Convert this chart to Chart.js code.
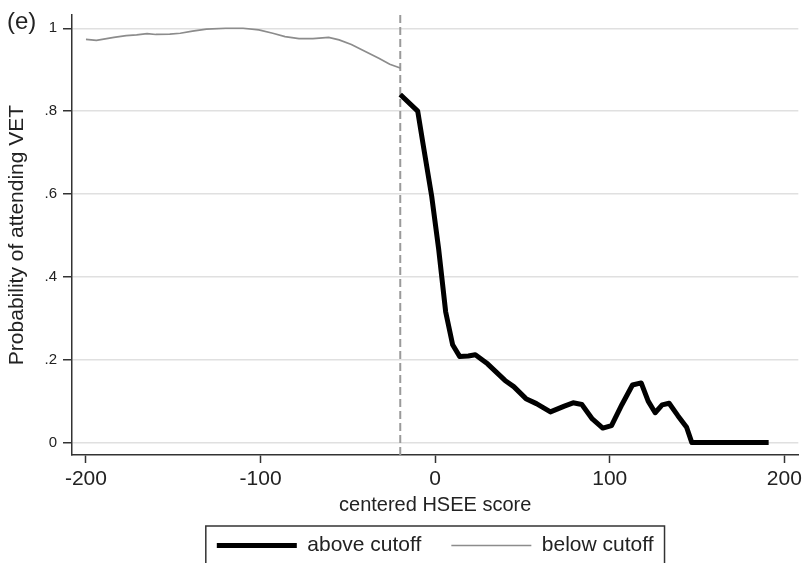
<!DOCTYPE html>
<html>
<head>
<meta charset="utf-8">
<script src="https://cdn.jsdelivr.net/npm/chart.js@4.4.1/dist/chart.umd.min.js"></script>
<style>
  html, body { margin: 0; padding: 0; background: #ffffff; }
  #c { display: block; }
</style>
</head>
<body>
<canvas id="c" width="806" height="563"></canvas>
<script>
// ---- data ----
const panelLabel = '(e)';
const xTitle = 'centered HSEE score';
const yTitle = 'Probability of attending VET';

const belowLabel = 'below cutoff';
const belowX = [-200, -194, -184, -177, -171, -165, -160, -152, -146, -139, -131, -120, -110, -101, -93, -86, -78, -70, -61, -55, -48, -40, -32, -26, -20];
const belowY = [0.973, 0.971, 0.978, 0.982, 0.984, 0.987, 0.985, 0.986, 0.988, 0.993, 0.998, 1.0, 1.0, 0.996, 0.988, 0.980, 0.975, 0.975, 0.978, 0.972, 0.961, 0.944, 0.927, 0.913, 0.904];

const aboveLabel = 'above cutoff';
const aboveX = [-20, -10, -7, -2, 2, 6, 10, 14, 19, 23, 30, 40, 45, 52, 58, 66, 74, 79, 84, 90, 96, 101, 107, 113, 118, 122, 126, 130, 134, 139, 144, 147, 191];
const aboveY = [0.840, 0.800, 0.722, 0.595, 0.467, 0.316, 0.236, 0.208, 0.209, 0.212, 0.190, 0.150, 0.135, 0.106, 0.094, 0.074, 0.088, 0.096, 0.092, 0.057, 0.035, 0.041, 0.092, 0.139, 0.144, 0.100, 0.072, 0.091, 0.095, 0.065, 0.037, 0.0, 0.0];

const cutoff = -20;

const xTickValues = [-200, -100, 0, 100, 200];
const xTickLabels = ['-200', '-100', '0', '100', '200'];
const yTickValues = [0, 0.2, 0.4, 0.6, 0.8, 1];
const yTickLabels = ['0', '.2', '.4', '.6', '.8', '1'];

const xMin = -208, xMax = 208;
const yMin = -0.03, yMax = 1.032;

// ---- chart ----
const FONT = "'Liberation Sans', Arial, Helvetica, sans-serif";
const AXIS = '#333333';
const TEXT = '#222222';

const toPoints = (xs, ys) => xs.map((x, i) => ({ x: x, y: ys[i] }));

const panelLabelPlugin = {
  id: 'panelLabel',
  afterDraw(chart) {
    const ctx = chart.ctx;
    ctx.save();
    ctx.font = '24px ' + FONT;
    ctx.fillStyle = TEXT;
    ctx.textBaseline = 'alphabetic';
    ctx.textAlign = 'left';
    ctx.fillText(panelLabel, 7, 29);
    ctx.restore();
  }
};

const legendFramePlugin = {
  id: 'legendFrame',
  afterDraw(chart) {
    const lg = chart.legend;
    if (!lg || !lg.legendHitBoxes || !lg.legendHitBoxes.length) return;
    const hb = lg.legendHitBoxes;
    const first = hb[0], last = hb[hb.length - 1];
    const left = first.left - 11;
    const right = last.left + last.width + 11;
    const top = first.top - 9;
    const ctx = chart.ctx;
    ctx.save();
    ctx.strokeStyle = AXIS;
    ctx.lineWidth = 1.5;
    ctx.strokeRect(left, top, right - left, chart.height + 20 - top);
    ctx.restore();
  }
};

new Chart(document.getElementById('c'), {
  type: 'line',
  data: {
    datasets: [
      {
        label: aboveLabel,
        data: toPoints(aboveX, aboveY),
        borderColor: '#000000',
        backgroundColor: '#000000',
        borderWidth: 5,
        pointRadius: 0,
        tension: 0,
        borderJoinStyle: 'round'
      },
      {
        label: belowLabel,
        data: toPoints(belowX, belowY),
        borderColor: '#8c8c8c',
        backgroundColor: '#8c8c8c',
        borderWidth: 1.7,
        pointRadius: 0,
        tension: 0
      },
      {
        label: 'cutoff',
        data: [{ x: cutoff, y: yMin }, { x: cutoff, y: yMax }],
        borderColor: '#9a9a9a',
        borderWidth: 2,
        borderDash: [8, 4],
        pointRadius: 0,
        tension: 0
      }
    ]
  },
  options: {
    responsive: false,
    animation: false,
    devicePixelRatio: 1,
    layout: { padding: { left: 0, right: 6, top: 11, bottom: -3 } },
    plugins: {
      legend: {
        position: 'bottom',
        fullSize: false,
        labels: {
          filter: (item) => item.text !== 'cutoff',
          usePointStyle: true,
          pointStyle: 'line',
          pointStyleWidth: 80,
          padding: 30,
          color: TEXT,
          font: { family: FONT, size: 21 }
        }
      },
      tooltip: { enabled: false }
    },
    scales: {
      x: {
        type: 'linear',
        min: xMin,
        max: xMax,
        afterBuildTicks: (s) => { s.ticks = xTickValues.map(v => ({ value: v })); },
        afterFit: (s) => { s.height = 50; },
        ticks: {
          color: TEXT,
          padding: 4,
          maxRotation: 0,
          autoSkip: false,
          font: { family: FONT, size: 21 },
          callback: (v) => { const i = xTickValues.indexOf(v); return i >= 0 ? xTickLabels[i] : ''; }
        },
        grid: {
          drawOnChartArea: false,
          drawTicks: true,
          tickLength: 8,
          tickColor: AXIS,
          tickWidth: 1.5
        },
        border: { display: true, color: AXIS, width: 1.5 },
        title: {
          display: true,
          text: xTitle,
          color: TEXT,
          font: { family: FONT, size: 20 },
          padding: { top: 0, bottom: -12 }
        }
      },
      y: {
        type: 'linear',
        min: yMin,
        max: yMax,
        afterBuildTicks: (s) => { s.ticks = yTickValues.map(v => ({ value: v })); },
        afterFit: (s) => { s.width = 72; },
        ticks: {
          color: TEXT,
          padding: 6,
          autoSkip: false,
          font: { family: FONT, size: 15 },
          callback: (v) => { const i = yTickValues.findIndex(t => Math.abs(t - v) < 1e-9); return i >= 0 ? yTickLabels[i] : ''; }
        },
        grid: {
          color: '#e0e0e0',
          lineWidth: 1.5,
          drawTicks: true,
          tickLength: 9,
          tickColor: AXIS,
          tickWidth: 1.5
        },
        border: { display: true, color: AXIS, width: 1.5 },
        title: {
          display: true,
          text: yTitle,
          color: TEXT,
          font: { family: FONT, size: 21 },
          padding: { top: 5, bottom: 0 }
        }
      }
    }
  },
  plugins: [panelLabelPlugin, legendFramePlugin]
});
</script>
</body>
</html>
